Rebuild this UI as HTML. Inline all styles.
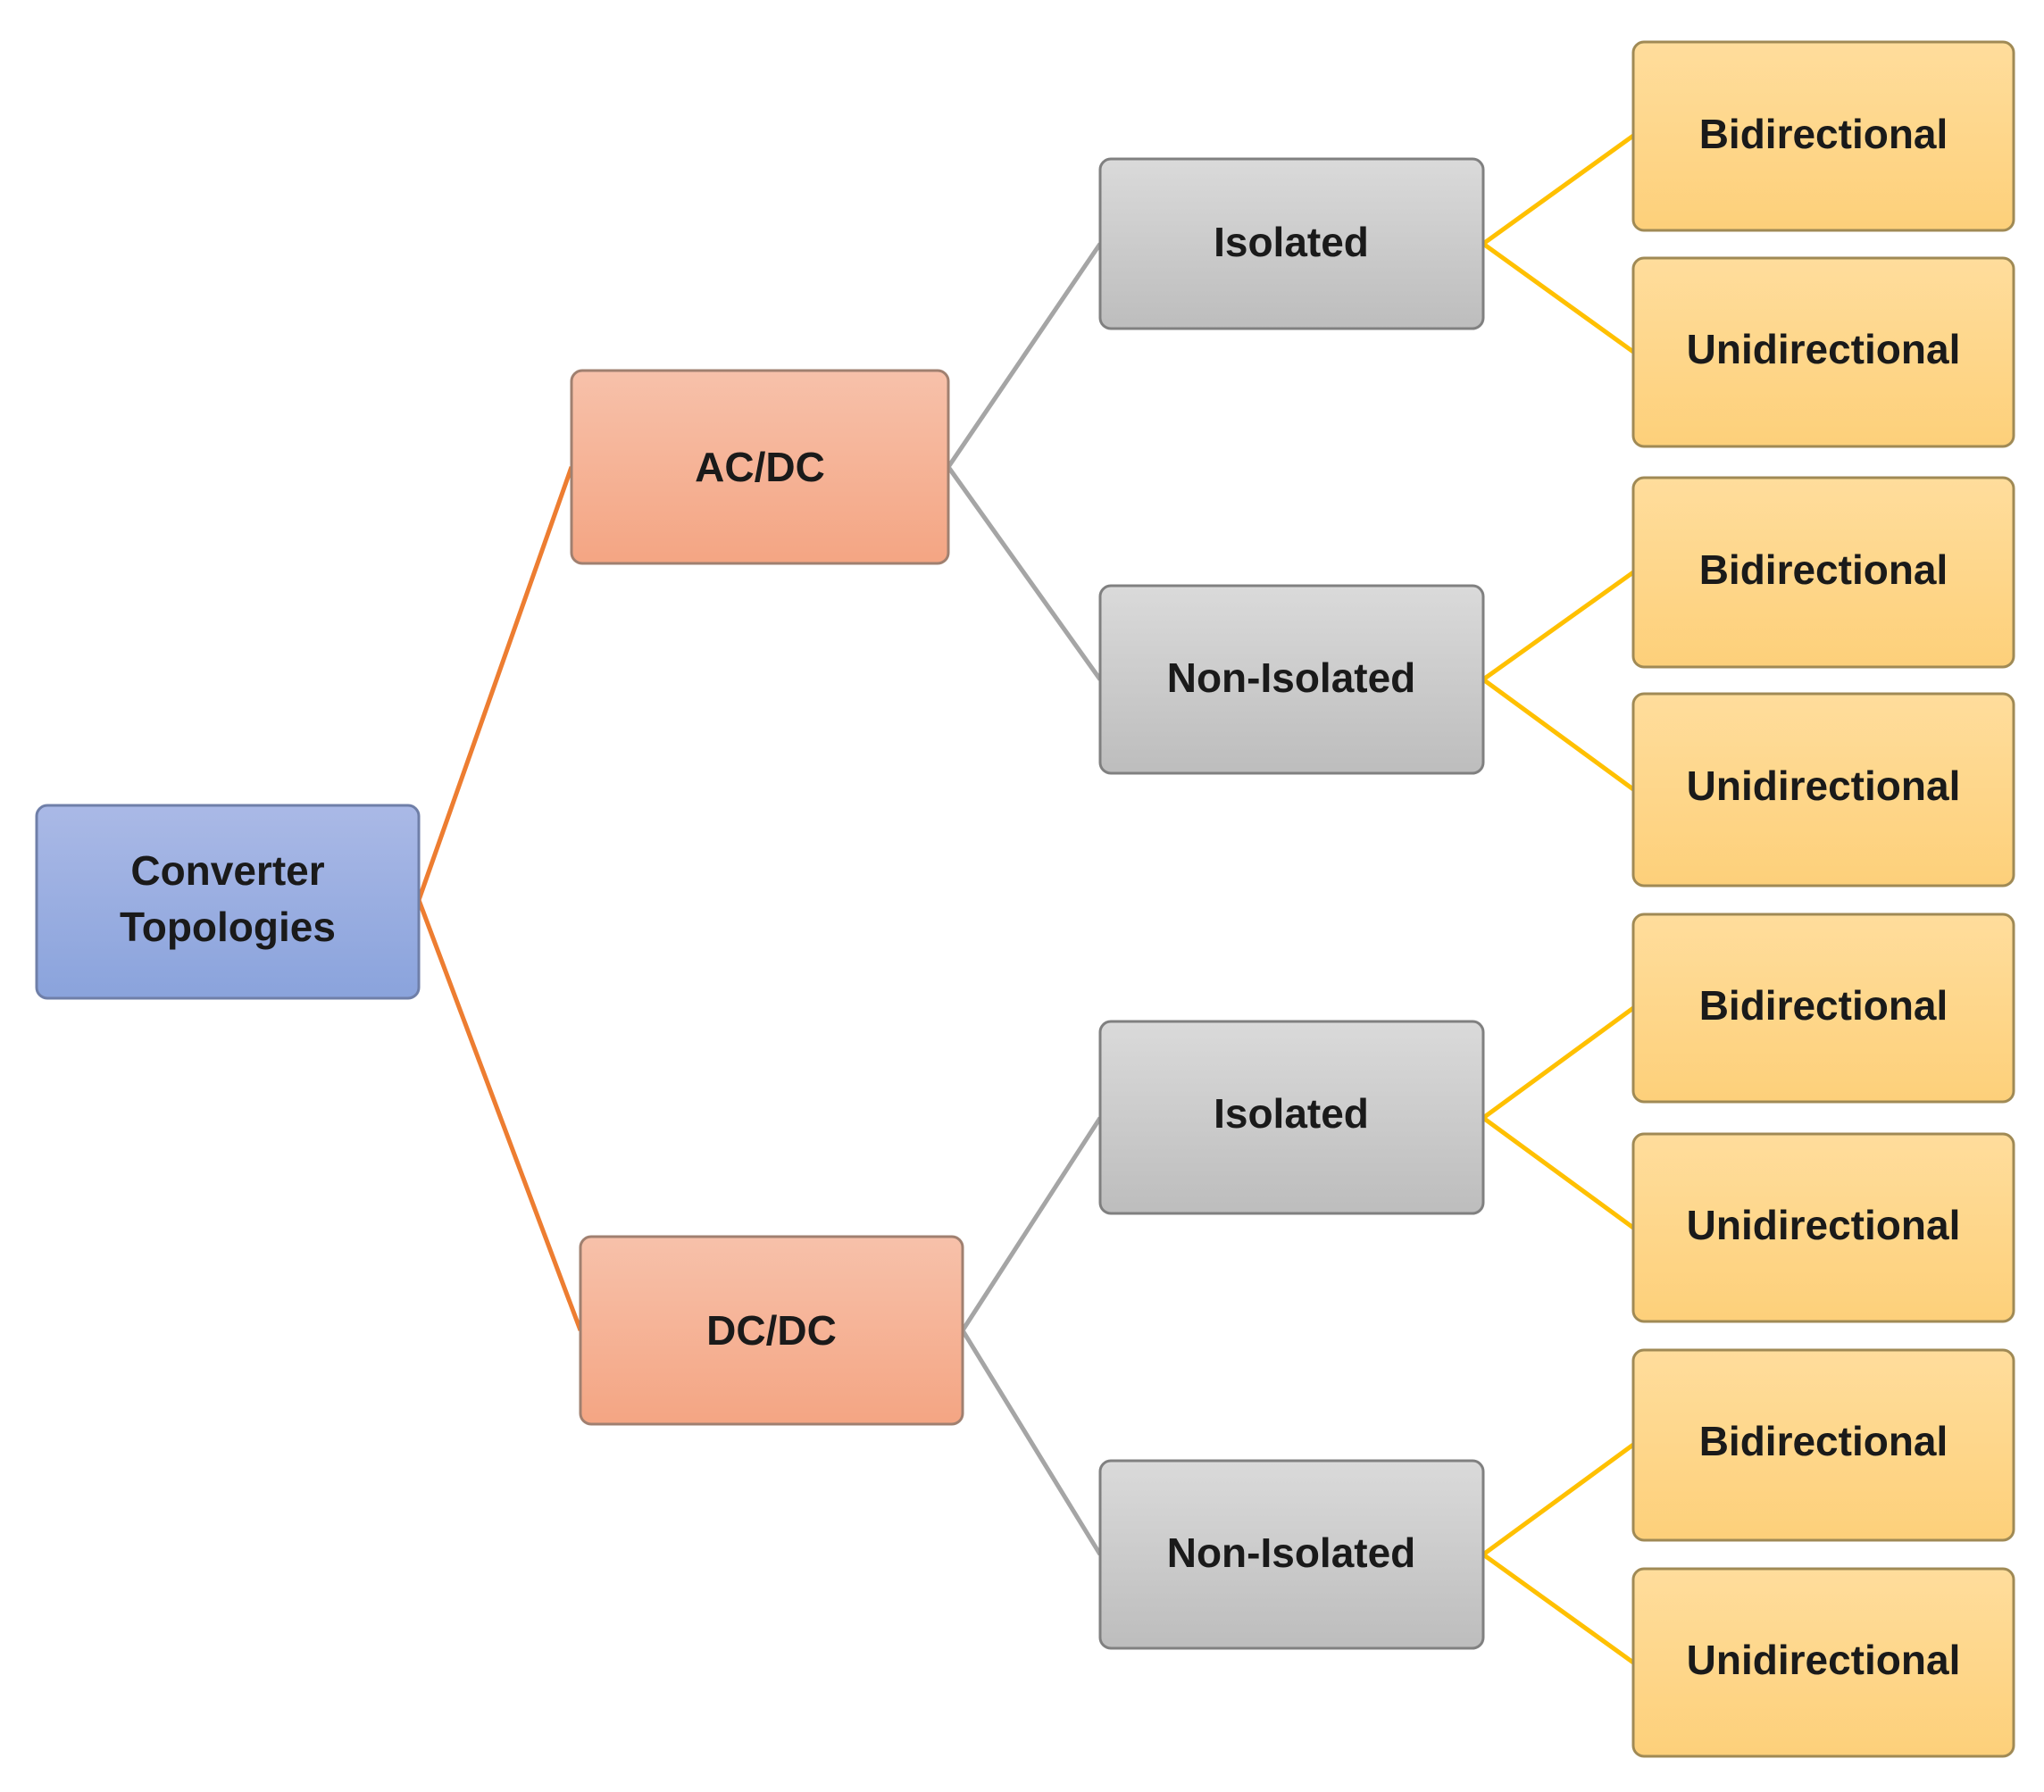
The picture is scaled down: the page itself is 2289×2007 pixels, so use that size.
<!DOCTYPE html>
<html><head><style>html,body{margin:0;padding:0;background:#fff}</style></head>
<body>
<svg width="2289" height="2002" viewBox="0 0 2289 2002" xmlns="http://www.w3.org/2000/svg" font-family="Liberation Sans, sans-serif" font-weight="bold">
<defs>
<linearGradient id="gb" x1="0" y1="0" x2="0" y2="1"><stop offset="0" stop-color="#aab9e6"/><stop offset="1" stop-color="#8aa3dc"/></linearGradient>
<linearGradient id="gs" x1="0" y1="0" x2="0" y2="1"><stop offset="0" stop-color="#f7c1aa"/><stop offset="1" stop-color="#f4a583"/></linearGradient>
<linearGradient id="gg" x1="0" y1="0" x2="0" y2="1"><stop offset="0" stop-color="#dadada"/><stop offset="1" stop-color="#bdbdbd"/></linearGradient>
<linearGradient id="gy" x1="0" y1="0" x2="0" y2="1"><stop offset="0" stop-color="#ffdd9c"/><stop offset="1" stop-color="#fdd07a"/></linearGradient>
</defs>
<g stroke-width="5" fill="none">
<line x1="469" y1="1008" x2="640" y2="523" stroke="#ed7d31"/>
<line x1="469" y1="1008" x2="650" y2="1490" stroke="#ed7d31"/>
<line x1="1062" y1="523" x2="1232" y2="273" stroke="#a5a5a5"/>
<line x1="1062" y1="523" x2="1232" y2="761" stroke="#a5a5a5"/>
<line x1="1078" y1="1490" x2="1232" y2="1252" stroke="#a5a5a5"/>
<line x1="1078" y1="1490" x2="1232" y2="1741" stroke="#a5a5a5"/>
<g stroke="#ffc000">
<line x1="1661" y1="273" x2="1829" y2="152"/><line x1="1661" y1="273" x2="1829" y2="394"/>
<line x1="1661" y1="761" x2="1829" y2="641"/><line x1="1661" y1="761" x2="1829" y2="884"/>
<line x1="1661" y1="1252" x2="1829" y2="1129"/><line x1="1661" y1="1252" x2="1829" y2="1375"/>
<line x1="1661" y1="1741" x2="1829" y2="1618"/><line x1="1661" y1="1741" x2="1829" y2="1862"/>
</g>
</g>
<g stroke-width="3">
<rect x="41" y="902" width="428" height="216" rx="12" fill="url(#gb)" stroke="#6f7fa8"/>
<rect x="640" y="415" width="422" height="216" rx="12" fill="url(#gs)" stroke="#a08070"/>
<rect x="650" y="1385" width="428" height="210" rx="12" fill="url(#gs)" stroke="#a08070"/>
<g fill="url(#gg)" stroke="#808080">
<rect x="1232" y="178" width="429" height="190" rx="12"/>
<rect x="1232" y="656" width="429" height="210" rx="12"/>
<rect x="1232" y="1144" width="429" height="215" rx="12"/>
<rect x="1232" y="1636" width="429" height="210" rx="12"/>
</g>
<g fill="url(#gy)" stroke="#a08a55">
<rect x="1829" y="47" width="426" height="211" rx="12"/>
<rect x="1829" y="289" width="426" height="211" rx="12"/>
<rect x="1829" y="535" width="426" height="212" rx="12"/>
<rect x="1829" y="777" width="426" height="215" rx="12"/>
<rect x="1829" y="1024" width="426" height="210" rx="12"/>
<rect x="1829" y="1270" width="426" height="210" rx="12"/>
<rect x="1829" y="1512" width="426" height="213" rx="12"/>
<rect x="1829" y="1757" width="426" height="210" rx="12"/>
</g>
</g>
<g fill="#1a1a1a" font-size="46" text-anchor="middle">
<text x="255" y="991">Converter</text>
<text x="255" y="1054">Topologies</text>
<text x="851" y="539">AC/DC</text>
<text x="864" y="1506">DC/DC</text>
<g textLength="330">
<text x="1446" y="287">Isolated</text>
<text x="1446" y="775">Non-Isolated</text>
<text x="1446" y="1263">Isolated</text>
<text x="1446" y="1755">Non-Isolated</text>
</g>
<text x="2042" y="166">Bidirectional</text>
<text x="2042" y="407">Unidirectional</text>
<text x="2042" y="654">Bidirectional</text>
<text x="2042" y="896">Unidirectional</text>
<text x="2042" y="1142">Bidirectional</text>
<text x="2042" y="1388">Unidirectional</text>
<text x="2042" y="1630">Bidirectional</text>
<text x="2042" y="1875">Unidirectional</text>
</g>
</svg>
</body></html>
